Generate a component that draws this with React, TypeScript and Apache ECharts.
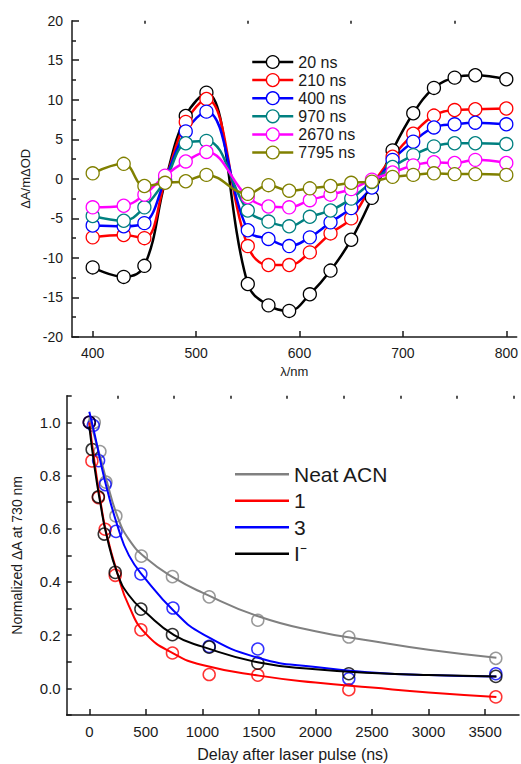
import React, { useEffect, useRef } from "react";
import * as echarts from "echarts";

// ---------- Top panel: transient spectra ----------
const wavelengths = [400, 430, 450, 470, 490, 510, 550, 570, 590, 610, 630, 650, 670, 690, 710, 730, 750, 770, 800];
const spectraNames = ["20 ns", "210 ns", "400 ns", "970 ns", "2670 ns", "7795 ns"];
const spec20 = [-11.2, -12.4, -11.0, -0.4, 7.95, 10.9, -13.3, -16.0, -16.7, -14.6, -11.6, -7.7, -2.4, 3.6, 8.3, 11.5, 12.8, 13.1, 12.6];
const spec210 = [-7.4, -7.1, -7.5, -0.3, 7.2, 10.1, -8.5, -10.9, -10.9, -9.3, -6.9, -5.0, -0.8, 2.8, 5.7, 8.0, 8.7, 8.8, 8.9];
const spec400 = [-5.9, -6.0, -5.6, -0.1, 6.0, 8.5, -6.5, -7.6, -8.5, -7.4, -5.5, -3.7, -1.1, 2.4, 4.7, 6.5, 6.9, 7.1, 6.9];
const spec970 = [-4.7, -5.3, -3.6, -0.2, 4.5, 4.8, -4.0, -5.4, -6.0, -4.8, -4.0, -2.5, -0.4, 1.5, 3.0, 4.1, 4.5, 4.5, 4.4];
const spec2670 = [-3.6, -3.4, -2.0, 0.4, 2.2, 3.4, -2.3, -3.5, -3.6, -2.7, -2.0, -1.3, -0.1, 0.8, 1.7, 2.1, 2.0, 2.4, 2.0];
const spec7795 = [0.7, 1.9, -0.9, -0.5, -0.3, 0.5, -1.9, -0.8, -1.5, -1.2, -0.9, -0.5, -0.35, 0.25, 0.5, 0.7, 0.6, 0.6, 0.5];
const spectraColors = ["#000000", "#ff0000", "#0000ff", "#008080", "#ff00ff", "#808000"];
const topXLabels = [400, 500, 600, 700, 800];
const topXMinor = [450, 550, 650, 750];

// ---------- Bottom panel: decay kinetics ----------
const decayNames = ["Neat ACN", "1", "3", "I\u207B"];
const decayColors = ["#808080", "#ff0000", "#0000ff", "#000000"];
// measured points
const acnT = [44, 94, 147, 235, 460, 735, 1060, 1490, 2295, 3595];
const acnY = [1.0, 0.89, 0.775, 0.648, 0.497, 0.42, 0.344, 0.256, 0.193, 0.113];
const c1T = [0, 23, 80, 140, 229, 456, 735, 1060, 1490, 2295, 3595];
const c1Y = [1.0, 0.855, 0.717, 0.598, 0.425, 0.22, 0.133, 0.052, 0.05, -0.005, -0.032];
const c3T = [0, 35, 82, 140, 236, 456, 740, 1060, 1490, 2295, 3595];
const c3Y = [1.0, 0.988, 0.856, 0.766, 0.59, 0.43, 0.302, 0.158, 0.148, 0.036, 0.055];
const iodT = [0, 25, 80, 132, 229, 456, 735, 1060, 1490, 2295, 3595];
const iodY = [1.0, 0.898, 0.72, 0.58, 0.436, 0.298, 0.202, 0.155, 0.095, 0.055, 0.045];
// fitted curves
const fitT = [0, 50, 100, 150, 250, 350, 500, 750, 1000, 1500, 2000, 2500, 3000, 3600];
const acnFit = [1.02, 0.94, 0.865, 0.785, 0.645, 0.56, 0.49, 0.415, 0.36, 0.27, 0.215, 0.178, 0.145, 0.115];
const c1Fit = [1.0, 0.84, 0.7, 0.585, 0.43, 0.31, 0.205, 0.13, 0.088, 0.048, 0.022, 0.003, -0.015, -0.032];
const c3Fit = [1.04, 0.95, 0.85, 0.76, 0.61, 0.5, 0.41, 0.29, 0.205, 0.114, 0.08, 0.06, 0.05, 0.045];
const iodFit = [0.985, 0.82, 0.69, 0.58, 0.43, 0.35, 0.285, 0.2, 0.157, 0.097, 0.072, 0.058, 0.05, 0.045];
const botXLabels = [0, 500, 1000, 1500, 2000, 2500, 3000, 3500];
const botXMinor = [250, 750, 1250, 1750, 2250, 2750, 3250, 3750];

const FONT = "'Liberation Sans', Arial, sans-serif";
const AX = "#1a1a1a";

function zip(xs: number[], ys: number[]) {
  return xs.map((x, i) => [x, ys[i]]);
}

export default function App() {
  const ref = useRef<HTMLDivElement>(null);
  useEffect(() => {
    if (!ref.current) return;
    const chart = echarts.init(ref.current, undefined, { renderer: "svg" });
    const spectra = [spec20, spec210, spec400, spec970, spec2670, spec7795];
    const decPts = [zip(acnT, acnY), zip(c1T, c1Y), zip(c3T, c3Y), zip(iodT, iodY)];
    const decFit = [acnFit, c1Fit, c3Fit, iodFit];

    const axisLine = { show: true, onZero: false, lineStyle: { color: AX, width: 1.5 } };
    const plain = (v: number) => String(v);

    const series: any[] = [];
    spectra.forEach((arr, i) => {
      series.push({
        name: spectraNames[i],
        type: "line",
        xAxisIndex: 0,
        yAxisIndex: 0,
        data: zip(wavelengths, arr),
        smooth: 0.4,
        symbol: "circle",
        symbolSize: 13,
        showAllSymbol: true,
        lineStyle: { color: spectraColors[i], width: 2.5 },
        itemStyle: { color: "#ffffff", borderColor: spectraColors[i], borderWidth: 1.3 },
      });
    });
    decFit.forEach((arr, i) => {
      series.push({
        name: decayNames[i],
        type: "line",
        xAxisIndex: 2,
        yAxisIndex: 1,
        data: zip(fitT, arr),
        smooth: 0.5,
        symbol: "none",
        lineStyle: { color: decayColors[i], width: 2 },
        itemStyle: { color: decayColors[i] },
      });
    });
    decPts.forEach((pts, i) => {
      series.push({
        name: decayNames[i] + " data",
        type: "scatter",
        xAxisIndex: 2,
        yAxisIndex: 1,
        data: pts,
        symbol: "circle",
        symbolSize: 12,
        itemStyle: { color: "rgba(0,0,0,0)", borderColor: decayColors[i], borderWidth: 1.5 },
      });
    });

    chart.setOption({
      animation: false,
      textStyle: { fontFamily: FONT, color: AX },
      grid: [
        { left: 72, right: 3, top: 20.7, height: 316.3, containLabel: false },
        { left: 66.7, right: 2, top: 395.7, height: 319.3, containLabel: false },
      ],
      xAxis: [
        {
          type: "value", gridIndex: 0, min: 380, max: 810,
          axisLine, splitLine: { show: false },
          axisTick: { show: true, inside: true, length: 6, lineStyle: { color: AX, width: 1.5 }, customValues: topXLabels },
          axisLabel: { customValues: topXLabels, formatter: plain, fontSize: 14, color: AX, margin: 9, fontFamily: FONT },
          name: "\u03BB/nm", nameLocation: "middle", nameGap: 28,
          nameTextStyle: { fontSize: 13, color: AX, fontFamily: FONT },
        },
        {
          type: "value", gridIndex: 0, min: 380, max: 810,
          axisLine: { show: false, onZero: false }, splitLine: { show: false },
          axisTick: { show: true, inside: true, length: 3, lineStyle: { color: AX, width: 1.5 }, customValues: topXMinor },
          axisLabel: { show: false, customValues: topXMinor },
        },
        {
          type: "value", gridIndex: 1, min: -200, max: 3800,
          axisLine, splitLine: { show: false },
          axisTick: { show: true, inside: true, length: 6, lineStyle: { color: AX, width: 1.5 }, customValues: botXLabels },
          axisLabel: { customValues: botXLabels, formatter: plain, fontSize: 15, color: AX, margin: 9, fontFamily: FONT },
          name: "Delay after laser pulse (ns)", nameLocation: "middle", nameGap: 31,
          nameTextStyle: { fontSize: 16, color: AX, fontFamily: FONT },
        },
        {
          type: "value", gridIndex: 1, min: -200, max: 3800,
          axisLine: { show: false, onZero: false }, splitLine: { show: false },
          axisTick: { show: true, inside: true, length: 3, lineStyle: { color: AX, width: 1.5 }, customValues: botXMinor },
          axisLabel: { show: false, customValues: botXMinor },
        },
      ],
      yAxis: [
        {
          type: "value", gridIndex: 0, min: -20, max: 20, interval: 5,
          axisLine, splitLine: { show: false },
          axisTick: { show: true, inside: true, length: 7, lineStyle: { color: AX, width: 1.5 } },
          minorTick: { show: true, splitNumber: 2, length: 4, lineStyle: { color: AX, width: 1.5 } },
          axisLabel: { fontSize: 14, color: AX, margin: 9, fontFamily: FONT },
          name: "\u0394A/m\u0394OD", nameLocation: "middle", nameGap: 32,
          nameTextStyle: { fontSize: 13, color: AX, fontFamily: FONT },
        },
        {
          type: "value", gridIndex: 1, min: -0.1, max: 1.1, interval: 0.1,
          axisLine, splitLine: { show: false },
          axisTick: { show: true, inside: true, length: 5, lineStyle: { color: AX, width: 1.5 } },
          axisLabel: {
            fontSize: 15, color: AX, margin: 6, fontFamily: FONT,
            formatter: (v: number) => {
              const k = Math.round(v * 10);
              return k >= 0 && k <= 10 && k % 2 === 0 ? (k / 10).toFixed(1) : "";
            },
          },
          name: "Normalized \u0394A at 730 nm", nameLocation: "middle", nameGap: 43,
          nameTextStyle: { fontSize: 14, color: AX, fontFamily: FONT },
        },
      ],
      legend: [
        {
          orient: "vertical", left: 246, top: 49,
          itemWidth: 41, itemHeight: 16, itemGap: 2.1,
          textStyle: { fontSize: 16, color: AX, fontFamily: FONT },
          data: spectraNames.map((n, i) => ({
            name: n,
            itemStyle: { color: "#ffffff", borderColor: spectraColors[i], borderWidth: 1.3 },
            lineStyle: { color: spectraColors[i], width: 2.5 },
          })),
        },
        {
          orient: "vertical", left: 230, top: 456,
          itemWidth: 54, itemHeight: 2.5, itemGap: 0, icon: "rect",
          textStyle: { fontSize: 21, color: AX, fontFamily: FONT, lineHeight: 26.5 },
          data: decayNames.map((n, i) => ({
            name: n,
            itemStyle: { color: decayColors[i] },
          })),
        },
      ],
      series,
    });
    return () => chart.dispose();
  }, []);
  return <div ref={ref} style={{ position: "fixed", left: 0, top: 0, width: 521, height: 764, background: "#fff" }} />;
}
